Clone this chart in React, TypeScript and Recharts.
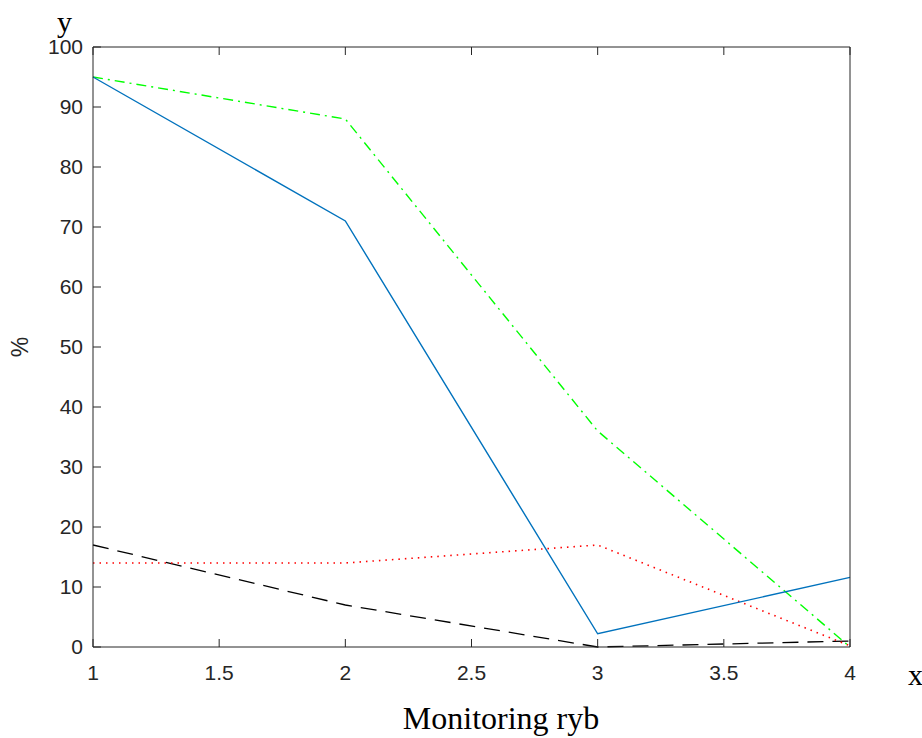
import { LineChart, Line, XAxis, YAxis } from "recharts";

const xValues = [1, 2, 3, 4];
const blueSeries = [95, 71, 2.2, 11.6];
const greenSeries = [95, 88, 36, 0];
const redSeries = [14, 14, 17, 0.2];
const blackSeries = [17, 7, 0, 1];

const xTicks = [1, 1.5, 2, 2.5, 3, 3.5, 4];
const yTicks = [0, 10, 20, 30, 40, 50, 60, 70, 80, 90, 100];

const data = xValues.map((x, i) => ({
  x,
  blue: blueSeries[i],
  green: greenSeries[i],
  red: redSeries[i],
  black: blackSeries[i],
}));

const axisColor = "#262626";
const tickFont = "'Liberation Sans', Arial, sans-serif";
const serif = "'Liberation Serif', 'Times New Roman', serif";

const BottomTick = (props: any) => {
  const { x, y, payload } = props;
  return (
    <g>
      <line x1={x} y1={y} x2={x} y2={y - 8} stroke={axisColor} />
      <text
        x={x}
        y={y + 33}
        textAnchor="middle"
        style={{ fontSize: 21, fontFamily: tickFont }}
        fill={axisColor}
      >
        {payload.value}
      </text>
    </g>
  );
};

const TopTick = (props: any) => {
  const { x, y } = props;
  return <line x1={x} y1={y} x2={x} y2={y + 8} stroke={axisColor} />;
};

const LeftTick = (props: any) => {
  const { x, y, payload } = props;
  return (
    <g>
      <line x1={x} y1={y} x2={x + 8} y2={y} stroke={axisColor} />
      <text
        x={x - 10}
        y={y + 7}
        textAnchor="end"
        style={{ fontSize: 21, fontFamily: tickFont }}
        fill={axisColor}
      >
        {payload.value}
      </text>
    </g>
  );
};

const RightTick = (props: any) => {
  const { x, y } = props;
  return <line x1={x} y1={y} x2={x - 8} y2={y} stroke={axisColor} />;
};

export default function App() {
  return (
    <div style={{ position: "absolute", left: 0, top: 0, width: 922, height: 738, background: "white" }}>
      <LineChart
        width={922}
        height={738}
        data={data}
        margin={{ top: 0, right: 0, bottom: 0, left: 0 }}
      >
        <XAxis
          xAxisId="bottom"
          dataKey="x"
          type="number"
          domain={[1, 4]}
          ticks={xTicks}
          height={91}
          tickSize={0}
          tickMargin={0}
          tickLine={false}
          axisLine={{ stroke: axisColor }}
          tick={<BottomTick />}
          interval={0}
        />
        <XAxis
          xAxisId="top"
          orientation="top"
          dataKey="x"
          type="number"
          domain={[1, 4]}
          ticks={xTicks}
          height={47}
          tickSize={0}
          tickMargin={0}
          tickLine={false}
          axisLine={{ stroke: axisColor }}
          tick={<TopTick />}
          interval={0}
        />
        <YAxis
          yAxisId="left"
          type="number"
          domain={[0, 100]}
          ticks={yTicks}
          width={93}
          tickSize={0}
          tickMargin={0}
          tickLine={false}
          axisLine={{ stroke: axisColor }}
          tick={<LeftTick />}
          interval={0}
        />
        <YAxis
          yAxisId="right"
          orientation="right"
          type="number"
          domain={[0, 100]}
          ticks={yTicks}
          width={72}
          tickSize={0}
          tickMargin={0}
          tickLine={false}
          axisLine={{ stroke: axisColor }}
          tick={<RightTick />}
          interval={0}
        />
        <Line
          xAxisId="bottom"
          yAxisId="left"
          dataKey="black"
          stroke="#000000"
          strokeWidth={1.3}
          strokeDasharray="16 9"
          dot={false}
          isAnimationActive={false}
        />
        <Line
          xAxisId="bottom"
          yAxisId="left"
          dataKey="red"
          stroke="#ff0000"
          strokeWidth={1.6}
          strokeDasharray="1.5 5"
          dot={false}
          isAnimationActive={false}
        />
        <Line
          xAxisId="bottom"
          yAxisId="left"
          dataKey="green"
          stroke="#00ff00"
          strokeWidth={1.4}
          strokeDasharray="10 5 2 5"
          dot={false}
          isAnimationActive={false}
        />
        <Line
          xAxisId="bottom"
          yAxisId="left"
          dataKey="blue"
          stroke="#0072bd"
          strokeWidth={1.4}
          dot={false}
          isAnimationActive={false}
        />
      </LineChart>
      <div style={{ position: "absolute", left: 57, top: 7, fontFamily: serif, fontSize: 30, lineHeight: "30px", color: "#000" }}>
        y
      </div>
      <div style={{ position: "absolute", left: 908, top: 660, fontFamily: serif, fontSize: 30, lineHeight: "30px", color: "#000" }}>
        x
      </div>
      <div
        style={{
          position: "absolute",
          left: 20,
          top: 347,
          transform: "translate(-50%, -50%) rotate(-90deg)",
          fontFamily: tickFont,
          fontSize: 23,
          color: axisColor,
          whiteSpace: "nowrap",
        }}
      >
        %
      </div>
      <div
        style={{
          position: "absolute",
          left: 0,
          width: 1002,
          top: 700,
          textAlign: "center",
          fontFamily: serif,
          fontSize: 32,
          lineHeight: "36px",
          color: "#000",
          whiteSpace: "nowrap",
        }}
      >
        Monitoring ryb
      </div>
    </div>
  );
}
